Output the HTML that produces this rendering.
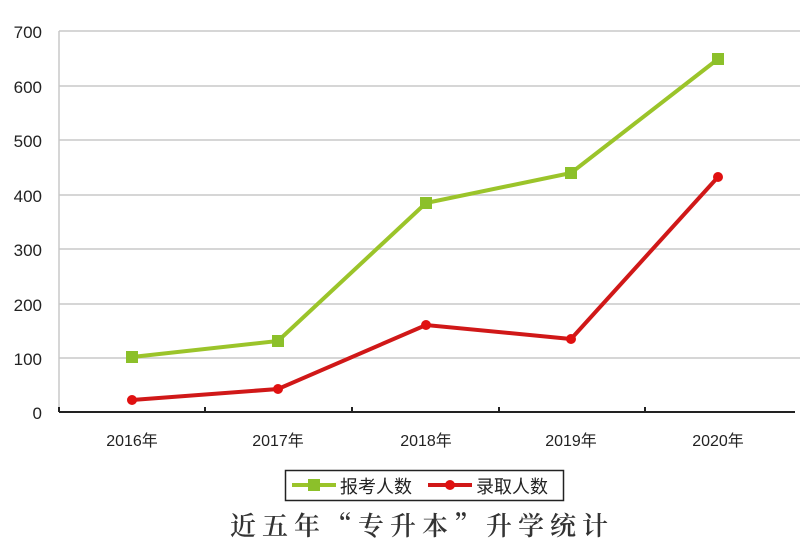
<!DOCTYPE html>
<html><head><meta charset="utf-8"><style>
body{margin:0;background:#fff;}
</style></head><body>
<svg width="800" height="551" xmlns="http://www.w3.org/2000/svg" style="display:block">
<rect width="800" height="551" fill="#fff"/>
<g stroke="#c8c8c8" stroke-width="1.5">
<line x1="59" y1="31" x2="800" y2="31"/>
<line x1="59" y1="86" x2="800" y2="86"/>
<line x1="59" y1="140" x2="800" y2="140"/>
<line x1="59" y1="195" x2="800" y2="195"/>
<line x1="59" y1="249" x2="800" y2="249"/>
<line x1="59" y1="304" x2="800" y2="304"/>
<line x1="59" y1="358" x2="800" y2="358"/>
<line x1="59" y1="31" x2="59" y2="412"/>
</g>
<g stroke="#222" stroke-width="2">
<line x1="59" y1="412" x2="795" y2="412"/>
<line x1="59" y1="407" x2="59" y2="412"/>
<line x1="205" y1="407" x2="205" y2="412"/>
<line x1="352" y1="407" x2="352" y2="412"/>
<line x1="499" y1="407" x2="499" y2="412"/>
<line x1="645" y1="407" x2="645" y2="412"/>
</g>
<g font-family="Liberation Sans, sans-serif" font-size="17" fill="#222" text-anchor="end">
<text x="42" y="38">700</text><text x="42" y="93">600</text><text x="42" y="147">500</text>
<text x="42" y="202">400</text><text x="42" y="256">300</text><text x="42" y="311">200</text>
<text x="42" y="365">100</text><text x="42" y="419">0</text>
</g>
<g font-family="Liberation Sans, 'Noto Sans CJK SC', sans-serif" font-size="16" fill="#222" text-anchor="middle">
<text x="132" y="446">2016年</text><text x="278" y="446">2017年</text><text x="426" y="446">2018年</text>
<text x="571" y="446">2019年</text><text x="718" y="446">2020年</text>
</g>
<polyline points="132,357 278,341 426,203 571,173 718,59" fill="none" stroke="#9bc42a" stroke-width="4"/>
<g fill="#8cc02a">
<rect x="126" y="351" width="12" height="12"/><rect x="272" y="335" width="12" height="12"/>
<rect x="420" y="197" width="12" height="12"/><rect x="565" y="167" width="12" height="12"/>
<rect x="712" y="53" width="12" height="12"/>
</g>
<polyline points="132,400 278,389 426,325 571,339 718,177" fill="none" stroke="#d01818" stroke-width="4"/>
<g fill="#e01010">
<circle cx="132" cy="400" r="5"/><circle cx="278" cy="389" r="5"/><circle cx="426" cy="325" r="5"/>
<circle cx="571" cy="339" r="5"/><circle cx="718" cy="177" r="5"/>
</g>
<rect x="285.5" y="470.5" width="278" height="30" fill="#fff" stroke="#222" stroke-width="1.5"/>
<line x1="292" y1="485" x2="336" y2="485" stroke="#9bc42a" stroke-width="4"/>
<rect x="308" y="479" width="12" height="12" fill="#8cc02a"/>
<text x="340" y="493" font-family="'Noto Sans CJK SC', sans-serif" font-size="18" fill="#222">报考人数</text>
<line x1="428" y1="485" x2="472" y2="485" stroke="#d01818" stroke-width="4"/>
<circle cx="450" cy="485" r="5" fill="#e01010"/>
<text x="476" y="493" font-family="'Noto Sans CJK SC', sans-serif" font-size="18" fill="#222">录取人数</text>
<text x="422" y="535" text-anchor="middle" font-family="'Noto Serif CJK SC', serif" font-size="26" font-weight="600" fill="#333" letter-spacing="6">近五年“专升本”升学统计</text>
</svg>
</body></html>
